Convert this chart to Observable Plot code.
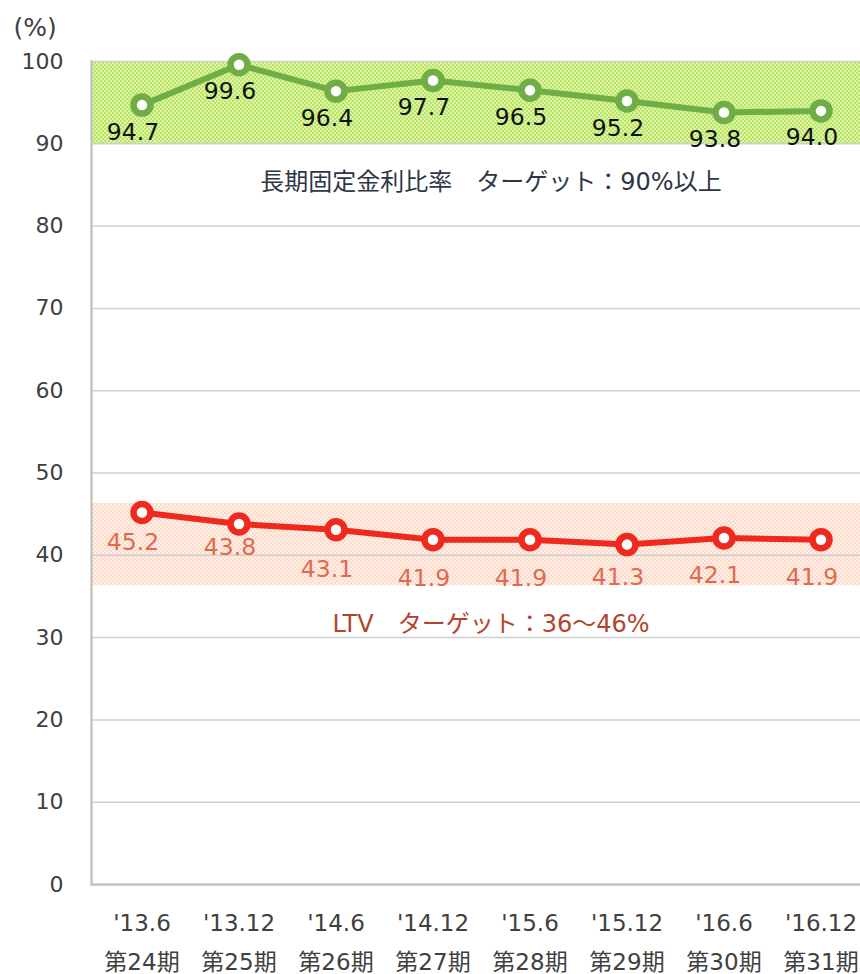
<!DOCTYPE html>
<html>
<head>
<meta charset="utf-8">
<script src="https://cdn.jsdelivr.net/npm/d3@7"></script>
<script src="https://cdn.jsdelivr.net/npm/@observablehq/plot@0.6"></script>
<style>
  html, body { margin: 0; padding: 0; background: #fff; }
  #chart svg { display: block; }
</style>
</head>
<body>
<div id="chart"></div>
<script>
// ---- data ----
const periods = ["'13.6", "'13.12", "'14.6", "'14.12", "'15.6", "'15.12", "'16.6", "'16.12"];
const terms = ["第24期", "第25期", "第26期", "第27期", "第28期", "第29期", "第30期", "第31期"];
const fixedRate = [94.7, 99.6, 96.4, 97.7, 96.5, 95.2, 93.8, 94.0];
const ltv = [45.2, 43.8, 43.1, 41.9, 41.9, 41.3, 42.1, 41.9];
const ltvLabelDy = [30, 23, 40, 39, 39, 33, 37, 38];
const fixedBand = {low: 90, high: 100};
const ltvBand = {low: 36.3, high: 46.3};
const yTicks = [0, 10, 20, 30, 40, 50, 60, 70, 80, 90, 100];
const notes = [
  {text: "長期固定金利比率　ターゲット：90%以上", y: 85.3, color: "#2e3646"},
  {text: "LTV　ターゲット：36～46%", y: 31.6, color: "#b3432b"}
];

const cats = periods.map((p, i) => p + "\n" + terms[i]);
const greenData = cats.map((c, i) => ({cat: c, v: fixedRate[i]}));
const redData = cats.map((c, i) => ({cat: c, v: ltv[i], dy: ltvLabelDy[i]}));

const font = "'DejaVu Sans', 'Noto Sans CJK JP', sans-serif";

const plot = Plot.plot({
  width: 860,
  height: 974,
  marginTop: 61,
  marginBottom: 90,
  marginLeft: 91,
  marginRight: 0,
  style: {fontFamily: font, background: "#fff"},
  x: {type: "band", domain: cats, range: [91, 870], padding: 0},
  y: {domain: [0, 100], range: [884, 61]},
  marks: [
    Plot.rectY([fixedBand], {y1: "low", y2: "high", fill: "url(#greenPat)"}),
    Plot.rectY([ltvBand], {y1: "low", y2: "high", fill: "url(#pinkPat)"}),
    Plot.ruleY(yTicks, {stroke: "#cfcfcf", strokeWidth: 1.5}),
    Plot.ruleY([0], {stroke: "#c4c4c4", strokeWidth: 2.5}),
    Plot.frame({anchor: "left", stroke: "#c4c4c4", strokeWidth: 2.5}),
    Plot.axisY(yTicks, {tickSize: 0, tickPadding: 28, fontSize: 22, fill: "#404040", label: null}),
    Plot.axisX({tickSize: 0, tickPadding: 19, fontSize: 23, fill: "#404040", lineHeight: 1.7, label: null}),
    Plot.text(["(%)"], {frameAnchor: "top-left", dx: -78, dy: -43, fontSize: 25, fill: "#404040"}),
    Plot.text(notes, {frameAnchor: "middle", y: "y", text: "text", fill: d => d.color, dx: 15, fontSize: 24}),
    Plot.line(greenData, {x: "cat", y: "v", stroke: "#70ad47", strokeWidth: 6}),
    Plot.dot(greenData, {x: "cat", y: "v", r: 8.5, fill: "#fff", stroke: "#70ad47", strokeWidth: 6.5}),
    Plot.line(redData, {x: "cat", y: "v", stroke: "#ee2a1e", strokeWidth: 6}),
    Plot.dot(redData, {x: "cat", y: "v", r: 8.5, fill: "#fff", stroke: "#ee2a1e", strokeWidth: 6.5}),
    Plot.text(greenData, {x: "cat", y: "v", text: d => d.v.toFixed(1), dx: -9, dy: 27, fontSize: 23.5, fill: "#111"}),
    ...redData.map(d => Plot.text([d], {x: "cat", y: "v", text: e => e.v.toFixed(1), dx: -9, dy: d.dy, fontSize: 23.5, fill: "#df6a4f"}))
  ]
});

// patterns for the target bands
const ns = "http://www.w3.org/2000/svg";
const defs = document.createElementNS(ns, "defs");
defs.innerHTML = `
  <pattern id="greenPat" width="4" height="4" patternUnits="userSpaceOnUse">
    <rect width="4" height="4" fill="#dcf5a6"/>
    <rect width="2" height="2" fill="#b9e465"/>
    <rect x="2" y="2" width="2" height="2" fill="#b9e465"/>
  </pattern>
  <pattern id="pinkPat" width="4" height="4" patternUnits="userSpaceOnUse">
    <rect width="4" height="4" fill="#fff1ea"/>
    <rect width="2" height="2" fill="#fdd9c8"/>
    <rect x="2" y="2" width="2" height="2" fill="#fdd9c8"/>
  </pattern>`;
plot.insertBefore(defs, plot.firstChild);
document.getElementById("chart").appendChild(plot);
</script>
</body>
</html>
